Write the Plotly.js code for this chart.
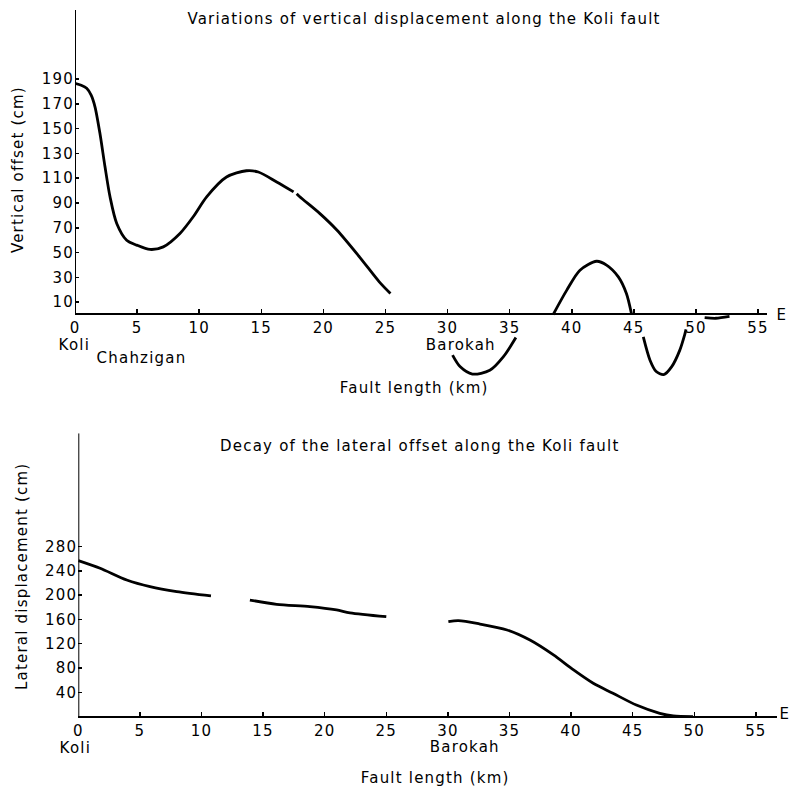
<!DOCTYPE html>
<html>
<head>
<meta charset="utf-8">
<script src="https://cdn.plot.ly/plotly-3.0.1.min.js"></script>
<style>
html,body{margin:0;padding:0;background:#fff;}
#chart{width:793px;height:789px;}
#chart text{letter-spacing:1.2px;}
</style>
</head>
<body>
<div id="chart"></div>
<script>
// ---- Data: vertical offset (cm) along the Koli fault (km) ----
const vertX1 = [0, 0.5, 0.94, 1.3, 1.61, 2.01, 2.42, 2.82, 3.36, 4.16, 4.97, 6.04, 7.11, 8.45, 9.52, 10.6, 12.2, 13.8, 14.76, 16.24, 17.6];
const vertY1 = [186.6, 185, 182.5, 177, 167.6, 146, 119, 95, 73.5, 60, 56, 52.5, 54.6, 65.4, 78.9, 95, 111, 116, 115, 107, 99];
const vertX2 = [17.85, 18.1, 19.7, 21.1, 22.9, 24.5, 25.4];
const vertY2 = [97.5, 95, 81.6, 68, 46.6, 26.4, 17];
const vertX3 = [30.4, 31.0, 32.0, 33.4, 34.5, 35.5];
const vertY3 = [-32.8, -42, -48, -45, -34, -18.5];
const vertX4 = [38.5, 39.6, 40.66, 42.0, 42.8, 43.75, 44.4, 44.8];
const vertY4 = [0, 19.7, 35.8, 43, 39.9, 30.4, 17, 1];
const vertX5 = [45.76, 46.3, 46.8, 47.4, 48.05, 48.7, 49.1, 49.2];
const vertY5 = [-18, -36.8, -46, -48.5, -42, -28.7, -16, -12];
const vertX6 = [50.7, 51.6, 52.7];
const vertY6 = [-2.5, -3, -1.5];

// ---- Data: lateral displacement (cm) along the Koli fault (km) ----
const latX1 = [0, 1.77, 3.93, 5.82, 7.99, 10.77];
const latY1 = [257, 244.3, 225, 214, 205.8, 198.7];
const latX2 = [13.93, 16.1, 18.8, 20.96, 22.05, 25.0];
const latY2 = [192, 185, 181, 175.6, 171, 164.6];
const latX3 = [30.04, 30.85, 32.6, 34.8, 36.66, 38.57, 40.2, 41.8, 43.4, 45.3, 47.2, 48.3, 49.9];
const latY3 = [156.3, 158, 152.5, 142.7, 126, 101.5, 76.8, 54.8, 38.4, 19, 5.4, 1, 0];

// ---- Tick labels ----
const xTicks = [0, 5, 10, 15, 20, 25, 30, 35, 40, 45, 50, 55];
const vertTicks = [10, 30, 50, 70, 90, 110, 130, 150, 170, 190];
const latTicks = [40, 80, 120, 160, 200, 240, 280];

const W = 793, H = 789;
const FONT = 'DejaVu Sans, sans-serif';
const lineStyle = {color: '#000', width: 2.8, shape: 'spline', smoothing: 0.8};

function seg(x, y, xa, ya) {
  return {x: x, y: y, xaxis: xa, yaxis: ya, mode: 'lines', line: lineStyle,
          hoverinfo: 'skip', showlegend: false};
}

const traces = [
  seg(vertX1, vertY1, 'x', 'y'), seg(vertX2, vertY2, 'x', 'y'),
  seg(vertX3, vertY3, 'x', 'y'), seg(vertX4, vertY4, 'x', 'y'),
  seg(vertX5, vertY5, 'x', 'y'), seg(vertX6, vertY6, 'x', 'y'),
  seg(latX1, latY1, 'x2', 'y2'), seg(latX2, latY2, 'x2', 'y2'),
  seg(latX3, latY3, 'x2', 'y2')
];

const px = v => v / W;
const py = v => 1 - v / H;

function ann(text, x, y, size, angle) {
  return {text: text, x: px(x), y: py(y), xref: 'paper', yref: 'paper',
          xanchor: 'center', yanchor: 'middle', showarrow: false,
          textangle: angle || 0, font: {family: FONT, size: size || 15, color: '#000'}};
}

const axisCommon = {
  showgrid: false, zeroline: false, ticks: 'inside', ticklen: 4, tickwidth: 1.5,
  tickcolor: '#000', tickfont: {family: FONT, size: 15, color: '#000'},
  fixedrange: true
};

const layout = {
  width: W, height: H,
  margin: {l: 0, r: 0, t: 0, b: 0},
  paper_bgcolor: '#fff', plot_bgcolor: 'rgba(0,0,0,0)',
  showlegend: false,
  xaxis: Object.assign({}, axisCommon, {
    domain: [px(75), px(767)], range: [0, 55.72],
    anchor: 'free', position: py(314.4),
    showline: true, linecolor: '#000', linewidth: 2,
    tickvals: xTicks, ticktext: xTicks.map(String)
  }),
  yaxis: Object.assign({}, axisCommon, {
    domain: [py(379), py(10)], range: [-52, 245.7], anchor: 'x',
    showline: false, tickvals: vertTicks, ticktext: vertTicks.map(String)
  }),
  xaxis2: Object.assign({}, axisCommon, {
    domain: [px(78.3), px(776.7)], range: [0, 56.69],
    anchor: 'free', position: py(716.6),
    showline: true, linecolor: '#000', linewidth: 2,
    tickvals: xTicks, ticktext: xTicks.map(String)
  }),
  yaxis2: Object.assign({}, axisCommon, {
    domain: [py(719), py(433.3)], range: [-4, 466.7], anchor: 'x2',
    showline: false, tickvals: latTicks, ticktext: latTicks.map(String)
  }),
  shapes: [
    {type: 'line', xref: 'x', yref: 'y', x0: 0, x1: 0, y0: 0, y1: 245.7,
     line: {color: '#000', width: 2}},
    {type: 'line', xref: 'x2', yref: 'y2', x0: 0, x1: 0, y0: 0, y1: 466.7,
     line: {color: '#000', width: 2}}
  ],
  annotations: [
    ann('Variations of vertical displacement along the Koli fault', 424, 19),
    ann('Vertical offset (cm)', 18, 170, 15, -90),
    ann('Fault length (km)', 414, 388),
    ann('Koli', 74, 345),
    ann('Chahzigan', 141, 358),
    ann('Barokah', 461, 345),
    ann('E', 781, 315),
    ann('Decay of the lateral offset along the Koli fault', 420, 446),
    ann('Lateral displacement (cm)', 22, 577, 15, -90),
    ann('Fault length (km)', 435, 778),
    ann('Koli', 75, 748),
    ann('Barokah', 465, 747),
    ann('E', 784, 714)
  ]
};

Plotly.newPlot('chart', traces, layout, {staticPlot: true, displayModeBar: false});
</script>
</body>
</html>
